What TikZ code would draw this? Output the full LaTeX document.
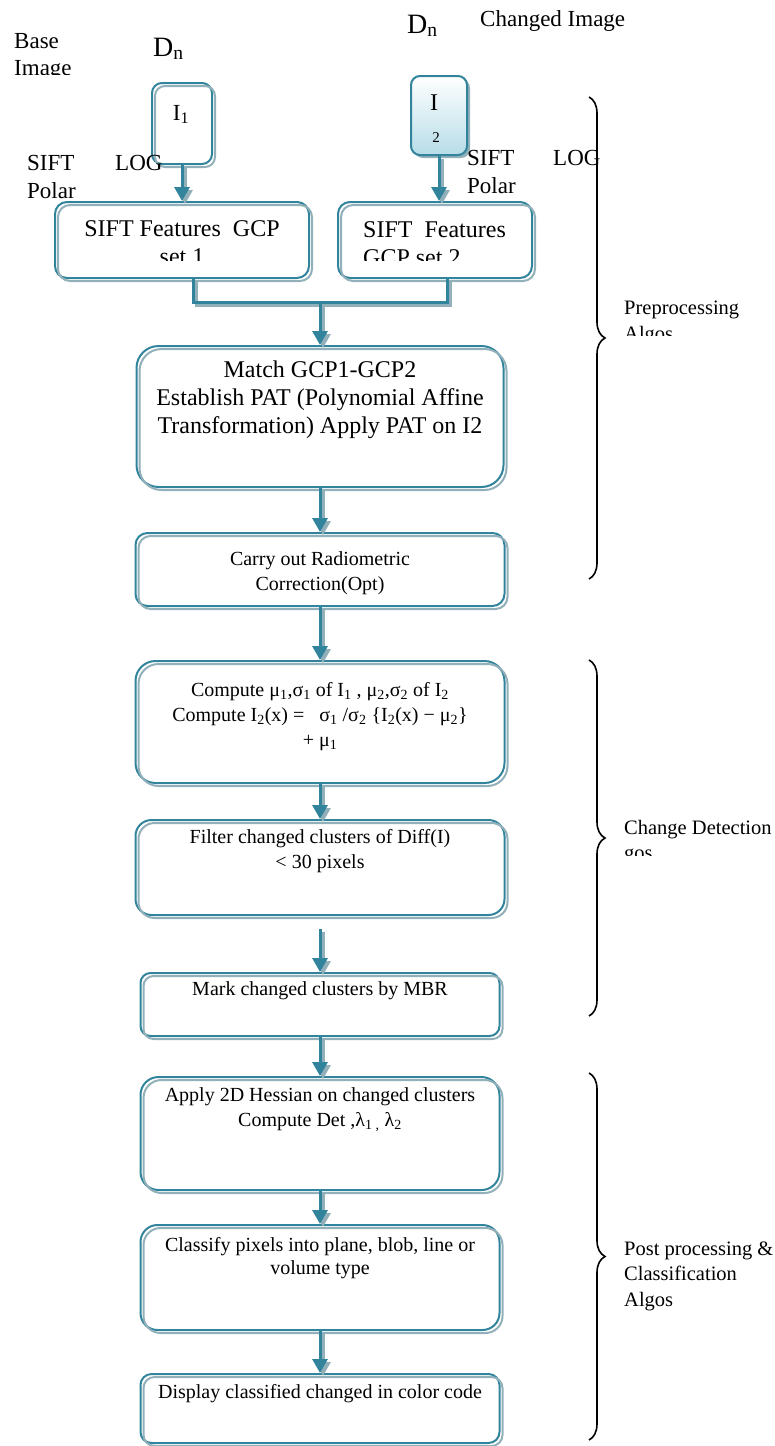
\documentclass[tikz,border=0pt]{standalone}
\usepackage{fontspec}
\setmainfont{Liberation Serif}
\usetikzlibrary{positioning,arrows.meta,decorations.pathreplacing}
\definecolor{boxline}{RGB}{49,132,155}
\definecolor{boxshade}{RGB}{146,176,186}
\definecolor{imgfill}{RGB}{183,221,232}
\newcommand{\lo}[1]{\textsubscript{#1}}
\newcommand{\fsz}[2]{\fontsize{#1}{#2}\selectfont}
\begin{document}
\begin{tikzpicture}
      [x=1pt, y=-1pt,
      stage/.style={draw=boxline, line width=2pt, fill=white, rounded corners=#1,
        postaction={draw=boxshade, fill=none, line width=2pt, transform canvas={shift={(3pt,-3pt)}}}},
      stage/.default=12pt,
      imgstage/.style={draw=boxline, line width=2pt, rounded corners=9pt, top color=white, bottom color=imgfill,
        preaction={fill=boxshade, transform canvas={shift={(3pt,-3pt)}}}},
      big/.style={inner sep=0pt, align=center, font=\fsz{24}{28}},
      txt/.style={inner sep=0pt, align=center, font=\fsz{20}{25}},
      note/.style={inner sep=0pt, anchor=base west, font=\fsz{23}{27}},
      side/.style={inner sep=0pt, anchor=north west, align=left, font=\fsz{20.5}{25.5}},
      flow/.style={draw=boxline, line width=3pt, -{Triangle[width=15pt, length=14pt]}},
      link/.style={draw=boxline, line width=3pt},
      ghost/.style={draw=boxshade, transform canvas={shift={(3pt,-3pt)}}},
      grp/.style={draw, line width=1.6pt, decorate, decoration={brace, amplitude=16pt}}]
      \useasboundingbox (0,0) rectangle (775,1446);
      \node[stage=10pt, minimum width=60pt, minimum height=81pt] (1) at (182,123.5) {};
      \node[imgstage, minimum width=56pt, minimum height=79pt] (2) at (439,115.5) {};
      \node[stage, minimum width=254pt, minimum height=76pt] (3) at (182,240) {};
      \node[stage, minimum width=194pt, minimum height=76pt] (4) at (435,240) {};
      \node[stage=22pt, minimum width=367pt, minimum height=141pt] (5) at (320,416.5) {};
      \node[stage, minimum width=369pt, minimum height=73pt] (6) at (320,569.5) {};
      \node[stage=20pt, minimum width=369pt, minimum height=122pt] (7) at (320,722) {};
      \node[stage=16pt, minimum width=369pt, minimum height=95pt] (8) at (320,867.5) {};
      \node[stage=10pt, minimum width=359pt, minimum height=63pt] (9) at (320,1004.5) {};
      \node[stage=18pt, minimum width=359pt, minimum height=113pt] (10) at (320,1133.5) {};
      \node[stage=17pt, minimum width=359pt, minimum height=105pt] (11) at (320,1277.5) {};
      \node[stage=11pt, minimum width=359pt, minimum height=69pt] (12) at (320,1408.5) {};
      \node[note, anchor=base] (t1) at (181,120) {I\lo{1}};
      \node[note, anchor=base, font=\fsz{24}{24}] (t2) at (434,110) {I};
      \node[note, anchor=base, font=\fsz{15}{15}] (t2b) at (436,142) {2};
      \begin{scope}
        \clip (55,202) rectangle (535,260);
        \node[big, below=19.8pt of 3.north] (t3) {SIFT Features\ \ GCP\\set 1};
        \node[big, align=left, anchor=north west] (t4) at (363,221.8) {SIFT\ \ Features\\GCP set 2};
      \end{scope}
      \node[big, below=15.6pt of 5.north] (t5) {Match GCP1-GCP2\\Establish PAT (Polynomial Affine\\Transformation) Apply PAT on I2};
      \node[txt, below=19.9pt of 6.north] (t6) {Carry out Radiometric\\Correction(Opt)};
      \node[txt, below=22pt of 7.north] (t7) {Compute μ\lo{1},σ\lo{1} of I\lo{1} , μ\lo{2},σ\lo{2} of I\lo{2}\\Compute I\lo{2}(x) =\ \ \ σ\lo{1} /σ\lo{2} \{I\lo{2}(x) − μ\lo{2}\}\\+ μ\lo{1}};
      \node[txt, below=10.7pt of 8.north] (t8) {Filter changed clusters of Diff(I)\\< 30 pixels};
      \node[txt, below=9.9pt of 9.north] (t9) {Mark changed clusters by MBR};
      \node[txt, below=11pt of 10.north] (t10) {Apply 2D Hessian on changed clusters\\Compute Det ,λ\lo{1 ,} λ\lo{2}};
      \node[txt, font=\fsz{20}{23}, below=13pt of 11.north] (t11) {Classify pixels into plane, blob, line or\\volume type};
      \node[txt, below=11pt of 12.north] (t12) {Display classified changed in color code};
      \begin{scope}
        \clip (0,0) rectangle (120,74);
        \node[note, anchor=north west, align=left] (base) at (14,32.8) {Base\\Image};
      \end{scope}
      \node[note, font=\fsz{28}{30}] (dn1) at (153,56) {D\lo{n}};
      \node[note, font=\fsz{28}{30}] (dn2) at (407,33) {D\lo{n}};
      \node[note] (chg) at (480,26) {Changed Image};
      \node[note] (s1) at (27,170) {SIFT};
      \node[note] (g1) at (115,170) {LOG};
      \node[note] (p1) at (27,198) {Polar};
      \node[note] (s2) at (467,165) {SIFT};
      \node[note] (g2) at (553,165) {LOG};
      \node[note] (p2) at (467,193) {Polar};
      \coordinate (a4) at (2 |- 4.north);
      \coordinate (m1) at (193,302);
      \coordinate (m2) at (447,302);
      \coordinate (m) at (320,302);
      \coordinate (c8) at (320,929);
      \foreach \s in {ghost, solid} {
        \draw[link, \s] (3.south -| m1) -- (m1) -- (m2) -- (4.south -| m2);
        \foreach \a/\b in {1/3, 2/a4, m/5, 5/6, 6/7, 7/8, c8/9, 9/10, 10/11, 11/12}
          \draw[flow, \s] (\a) -- (\b);
      }
      \draw[grp] (589,97) -- (589,579);
      \draw[grp] (589,660) -- (589,1016);
      \draw[grp] (589,1073) -- (589,1440);
      \begin{scope}
        \clip (600,290) rectangle (775,335);
        \node[side] (pre) at (624,301) {Preprocessing\\Algos};
      \end{scope}
      \begin{scope}
        \clip (600,810) rectangle (775,855);
        \node[side] (chd) at (624,820) {Change Detection\\gos};
      \end{scope}
      \node[side] (post) at (624,1241.5) {Post processing \&\\Classification\\Algos};
\end{tikzpicture}
\end{document}
